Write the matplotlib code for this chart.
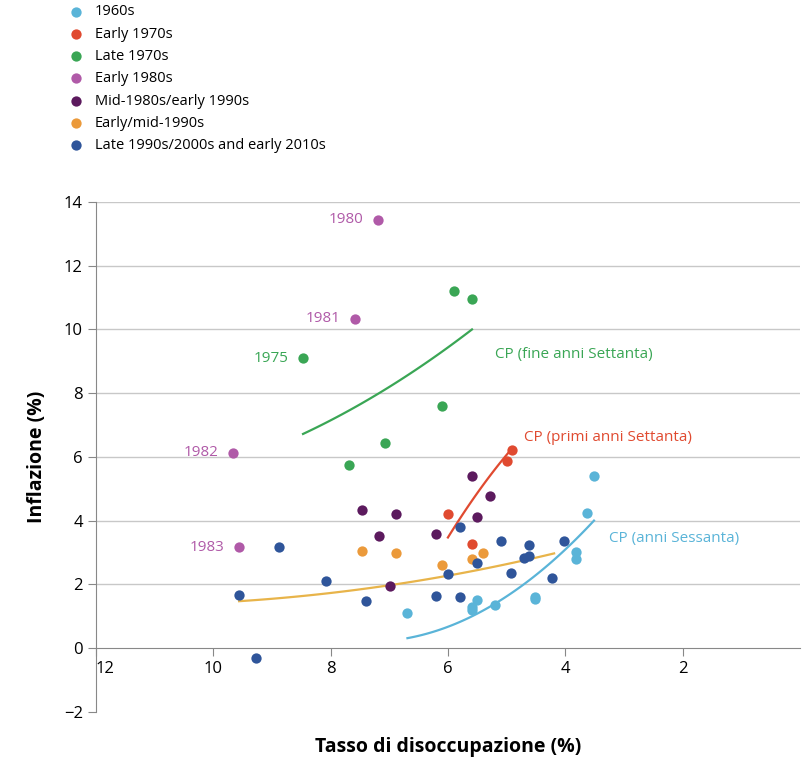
import numpy as np
import matplotlib
matplotlib.use("Agg")
import matplotlib.pyplot as plt

plt.rcParams['font.family'] = 'Open Sans'

series = ["1960s", "Early 1970s", "Late 1970s", "Early 1980s",
          "Mid-1980s/early 1990s", "Early/mid-1990s", "Late 1990s/2000s and early 2010s"]
colors = ["#5ab4d8", "#e04a30", "#3aa655", "#b05aa8", "#5c1a5e", "#eb9a3b", "#2f559a"]

x_60s = [6.69, 5.59, 5.59, 5.51, 5.20, 4.51, 4.51, 3.81, 3.81, 3.63, 3.51]
y_60s = [1.09, 1.28, 1.19, 1.50, 1.34, 1.59, 1.55, 3.00, 2.78, 4.25, 5.41]
x_e70 = [4.90, 5.00, 6.00, 5.59]
y_e70 = [6.22, 5.87, 4.22, 3.28]
x_l70 = [6.10, 7.08, 7.68, 8.47, 5.90, 5.59]
y_l70 = [7.59, 6.44, 5.75, 9.10, 11.22, 10.97]
x_e80 = [7.19, 7.58, 9.66, 9.56]
y_e80 = [13.44, 10.34, 6.13, 3.16]
lab_e80 = ["1980", "1981", "1982", "1983"]
x_m80 = [5.59, 5.29, 6.88, 5.51, 6.20, 7.17, 6.98, 7.47]
y_m80 = [5.41, 4.78, 4.22, 4.10, 3.59, 3.53, 1.94, 4.34]
x_e90 = [6.88, 6.10, 5.59, 5.41, 7.47]
y_e90 = [2.97, 2.60, 2.80, 2.97, 3.03]
x_l90 = [5.80, 5.10, 4.61, 4.61, 4.71, 4.02, 5.51, 6.00, 4.92, 4.22, 6.20, 5.80,
         8.88, 8.08, 9.56, 7.39, 9.27]
y_l90 = [3.81, 3.37, 3.22, 2.88, 2.84, 3.37, 2.66, 2.31, 2.34, 2.19, 1.63, 1.60,
         3.16, 2.09, 1.66, 1.47, -0.31]
xs = [x_60s, x_e70, x_l70, x_e80, x_m80, x_e90, x_l90]
ys = [y_60s, y_e70, y_l70, y_e80, y_m80, y_e90, y_l90]

# Phillips curves: (x points, y points) -> smooth quadratic
cp_green_x = [8.47, 7.12, 5.59]; cp_green_y = [6.72, 8.06, 10.0]
cp_red_x = [6.0, 5.47, 4.9]; cp_red_y = [3.47, 4.94, 6.28]
cp_blue_x = [6.69, 4.92, 3.51]; cp_blue_y = [0.31, 1.72, 4.0]
cp_orange_x = [9.56, 7.0, 4.19]; cp_orange_y = [1.47, 1.97, 2.97]
cp_labels = ["CP (fine anni Settanta)", "CP (primi anni Settanta)", "CP (anni Sessanta)"]

fig = plt.figure(figsize=(8.10, 7.83), dpi=100)
ax = fig.add_axes([0.1185, 0.091, 0.869, 0.651])
ax.set_xlim(12, 0)
ax.set_ylim(-2, 14)

for yv in range(2, 15, 2):
    ax.axhline(yv, color="#c8c8c8", lw=1, zorder=0)

for cx, cy, c in [(cp_green_x, cp_green_y, colors[2]), (cp_red_x, cp_red_y, colors[1]),
                  (cp_blue_x, cp_blue_y, colors[0]), (cp_orange_x, cp_orange_y, "#e8b44a")]:
    p = np.polyfit(cx, cy, 2)
    xx = np.linspace(min(cx), max(cx), 100)
    ax.plot(xx, np.polyval(p, xx), color=c, lw=1.6, zorder=1)

for x, y, c, s in zip(xs, ys, colors, series):
    ax.scatter(x, y, s=55, color=c, zorder=3, linewidths=0, label=s)

for x, y, t in zip(x_e80, y_e80, lab_e80):
    ax.text(x + 0.25, y, t, color=colors[3], fontsize=11, ha="right", va="center")
ax.text(x_l70[3] + 0.25, y_l70[3], "1975", color=colors[2], fontsize=11, ha="right", va="center")

ax.text(5.2, 9.2, cp_labels[0], color=colors[2], fontsize=11, va="center")
ax.text(4.7, 6.6, cp_labels[1], color=colors[1], fontsize=11, va="center")
ax.text(3.25, 3.45, cp_labels[2], color=colors[0], fontsize=11, va="center")

ax.spines["top"].set_visible(False)
ax.spines["right"].set_visible(False)
ax.spines["bottom"].set_position(("data", 0))
ax.spines["bottom"].set_color("#888888")
ax.spines["left"].set_color("#888888")
ax.set_xticks([12, 10, 8, 6, 4, 2])
ax.set_xticklabels(["12", "10", "8", "6", "4", "2"])
ax.get_xticklabels()[0].set_ha("left")
ax.set_yticks(range(-2, 15, 2))
ax.set_yticklabels(["\u22122"] + [str(v) for v in range(0, 15, 2)])
ax.tick_params(axis="both", labelsize=12, color="#888888", length=6)
ax.set_xlabel("Tasso di disoccupazione (%)", fontsize=14, fontweight="bold", labelpad=43)
ax.set_ylabel("Inflazione (%)", fontsize=14, fontweight="bold", labelpad=12)

fig.legend(loc="upper left", bbox_to_anchor=(0.07, 1.0), bbox_transform=fig.transFigure,
           frameon=False, fontsize=10.5, handletextpad=0.3, labelspacing=0.5,
           borderaxespad=0.0, borderpad=0.3)

fig.savefig("out.png", dpi=100)
